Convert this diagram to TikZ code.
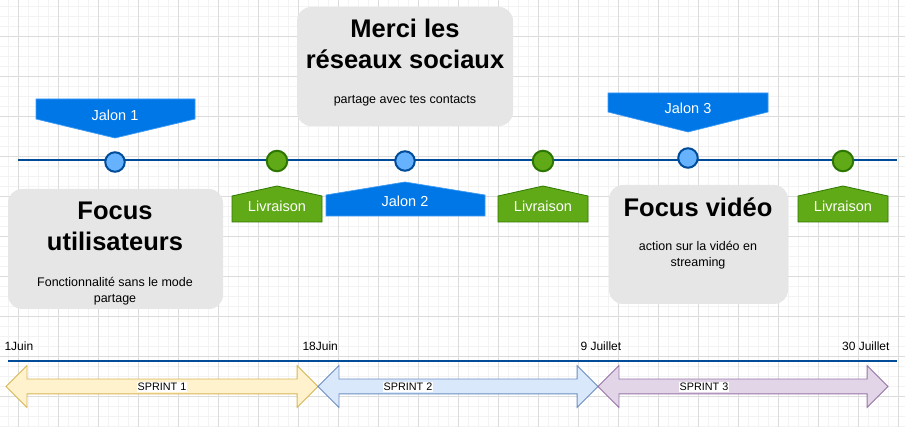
\documentclass[tikz,border=0pt]{standalone}
\usepackage{fontspec}
\setmainfont{Liberation Sans}
\usetikzlibrary{shapes.arrows, positioning}
\definecolor{lineblue}{HTML}{004C99}
\definecolor{ballblue}{HTML}{66B2FF}
\definecolor{jalonblue}{HTML}{0077E6}
\definecolor{jalonedge}{HTML}{3D9BF5}
\definecolor{livgreen}{HTML}{60A917}
\definecolor{livdark}{HTML}{2D7600}
\definecolor{cardgrey}{HTML}{E6E6E6}
\definecolor{gridmajor}{HTML}{DCDCDC}
\definecolor{gridminor}{HTML}{F3F3F3}
\definecolor{sprintyellow}{HTML}{FFF2CC}
\definecolor{sprintyellowedge}{HTML}{D6B656}
\definecolor{sprintblue}{HTML}{DAE8FC}
\definecolor{sprintblueedge}{HTML}{6C8EBF}
\definecolor{sprintpurple}{HTML}{E1D5E7}
\definecolor{sprintpurpleedge}{HTML}{9673A6}

\begin{document}
\begin{tikzpicture}[x=1pt, y=-1pt,
    timeline/.style={draw=lineblue, line width=2pt},
    ball/.style={circle, line width=2pt, minimum size=19.5pt, inner sep=0pt},
    jalonball/.style={ball, draw=lineblue, fill=ballblue},
    livball/.style={ball, draw=livdark, fill=livgreen, minimum size=20.5pt},
    card/.style={fill=cardgrey, rounded corners=14pt, inner sep=0pt},
    cardtitle/.style={font=\fontsize{25.5}{31.5}\selectfont\bfseries, align=center},
    cardtext/.style={font=\fontsize{12.5}{16}\selectfont, align=center},
    flagtext/.style={font=\fontsize{14.5}{17}\selectfont, text=white},
    jalon/.style={fill=jalonblue, draw=jalonedge, line width=0.7pt},
    livraison/.style={fill=livgreen, draw=livdark, line width=0.8pt},
    datetext/.style={font=\fontsize{12}{14}\selectfont},
    sprint/.style={double arrow, double arrow head extend=13.5pt, text height=7pt, text depth=7pt, minimum width=41pt, inner sep=0pt, line width=0.8pt},
    sprinttext/.style={font=\fontsize{10.8}{13}\selectfont, fill=white, inner sep=1pt}]
    \useasboundingbox (0,0) rectangle (905,427);

    % grid
    \foreach \gx in {8,18,...,898} \draw[gridminor, line width=0.6pt] (\gx,0) -- (\gx,427);
    \foreach \gy in {6,16,...,426} \draw[gridminor, line width=0.6pt] (0,\gy) -- (905,\gy);
    \foreach \gx in {18,58,...,898} \draw[gridmajor, line width=0.7pt] (\gx,0) -- (\gx,427);
    \foreach \gy in {36,76,...,396} \draw[gridmajor, line width=0.7pt] (0,\gy) -- (905,\gy);

    % cards
    \node[card, minimum width=215pt, minimum height=120pt] (c1) at (115.5,249) {};
    \node[card, minimum width=216pt, minimum height=119pt] (c2) at (405,66.5) {};
    \node[card, minimum width=179pt, minimum height=119pt] (c3) at (698.5,244.5) {};
    \node[cardtitle] (t1) at (115,226.5) {Focus\\utilisateurs};
    \node[cardtext] (x1) at (115,291) {Fonctionnalité sans le mode\\partage};
    \node[cardtitle] (t2) at (405,44) {Merci les\\réseaux sociaux};
    \node[cardtext] (x2) at (405,100.5) {partage avec tes contacts};
    \node[cardtitle] (t3) at (698,207) {Focus vidéo};
    \node[cardtext] (x3) at (698,255.5) {action sur la vidéo en\\streaming};

    % timeline
    \coordinate (tl0) at (18,160);
    \coordinate (tl1) at (897,160);
    \draw[timeline] (tl0) -- (tl1);
    \node[jalonball] (m1) at (115,162) {};
    \node[livball] (l1) at (277,161) {};
    \node[jalonball] (m2) at (405,161) {};
    \node[livball] (l2) at (543,161) {};
    \node[jalonball] (m3) at (688,158) {};
    \node[livball] (l3) at (843,161) {};

    % flags
    \filldraw[jalon] (36,99) -- (195,99) -- (195,119) -- (115,138) -- (36,119) -- cycle;
    \filldraw[jalon] (326,216) -- (485,216) -- (485,195) -- (405,182) -- (326,195) -- cycle;
    \filldraw[jalon] (608,93) -- (768,93) -- (768,112) -- (688,132) -- (608,112) -- cycle;
    \filldraw[livraison] (232,222) -- (322,222) -- (322,196) -- (277,186) -- (232,196) -- cycle;
    \filldraw[livraison] (498,222) -- (588,222) -- (588,196) -- (543,186) -- (498,196) -- cycle;
    \filldraw[livraison] (798,222) -- (888,222) -- (888,196) -- (843,186) -- (798,196) -- cycle;
    \node[flagtext] (j1) at (115,115) {Jalon 1};
    \node[flagtext] (j2) at (405,201) {Jalon 2};
    \node[flagtext] (j3) at (688,108) {Jalon 3};
    \node[flagtext] (v1) at (277,206) {Livraison};
    \node[flagtext] (v2) at (543,206) {Livraison};
    \node[flagtext] (v3) at (843,206) {Livraison};

    % dates
    \node[datetext, anchor=west] (d1) at (1,346) {1Juin};
    \node[datetext, anchor=west] (d2) at (299,346) {18Juin};
    \node[datetext, anchor=west] (d3) at (577,346) {9 Juillet};
    \node[datetext, anchor=east] (d4) at (893,346) {30 Juillet};
    \coordinate (dl0) at (8,361);
    \coordinate (dl1) at (897,361);
    \draw[timeline] (dl0) -- (dl1);

    % sprints
    \node[sprint, fill=sprintyellow, draw=sprintyellowedge, minimum height=312pt] (s1) at (162,386.5) {};
    \node[sprint, fill=sprintblue, draw=sprintblueedge, minimum height=280pt] (s2) at (458,386.5) {};
    \node[sprint, fill=sprintpurple, draw=sprintpurpleedge, minimum height=290pt] (s3) at (743,386.5) {};
    \node[sprinttext] (p1) at (162,387) {SPRINT 1};
    \node[sprinttext] (p2) at (408,387) {SPRINT 2};
    \node[sprinttext] (p3) at (704,387) {SPRINT 3};
\end{tikzpicture}
\end{document}
